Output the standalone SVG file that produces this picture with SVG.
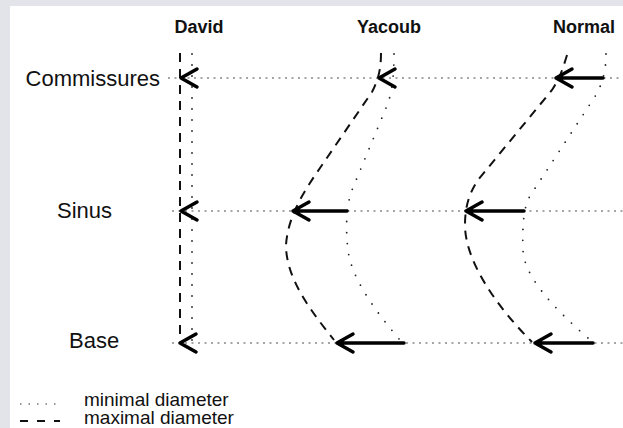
<svg xmlns="http://www.w3.org/2000/svg" width="623" height="428" viewBox="0 0 623 428">
<defs>
<style>
.t{font-family:"Liberation Sans",Arial,sans-serif;font-size:19px;fill:#111}
.c{font-size:22px}
.l{font-size:19px}
.h{font-family:"Liberation Sans",Arial,sans-serif;font-size:18px;font-weight:bold;fill:#111}
.dash{fill:none;stroke:#111;stroke-width:2;stroke-dasharray:9 7}
.dot{fill:none;stroke:#222;stroke-width:1.8;stroke-linecap:round;stroke-dasharray:0 11}
.row{fill:none;stroke:#888;stroke-width:1.3;stroke-dasharray:2 4.5}
.arr{fill:none;stroke:#000;stroke-width:3.5;stroke-linecap:round;stroke-linejoin:round}
</style>
</defs>
<rect x="0" y="0" width="623" height="428" fill="#e3e3ea"/>
<rect x="10" y="6" width="613" height="422" fill="#fff"/>

<g id="titles">
<text class="h" x="199" y="33" text-anchor="middle">David</text>
<text class="h" x="389" y="33" text-anchor="middle">Yacoub</text>
<text class="h" x="584" y="33" text-anchor="middle">Normal</text>
</g>
<g id="row-labels">
<text class="t c" x="160" y="86" text-anchor="end">Commissures</text>
<text class="t c" x="57" y="218">Sinus</text>
<text class="t c" x="69" y="348">Base</text>
</g>

<g id="connectors">
<line class="row" x1="168" y1="78" x2="623" y2="78"/>
<line class="row" x1="172" y1="211" x2="623" y2="211"/>
<line class="row" x1="172" y1="343" x2="623" y2="343"/>
</g>

<g id="david">
<line class="dash" x1="180" y1="53" x2="180" y2="338"/>
<line class="dot" x1="192" y1="54" x2="192" y2="343"/>
<path class="arr" d="M197,69 L181,78 L197,87"/>
<path class="arr" d="M197,202 L181,211 L197,220"/>
<path class="arr" d="M196,334 L180,343 L196,352"/>
</g>

<g id="yacoub">
<path class="dash" d="M381,53 C381,70 378,80 372,92 L320,168 C305,190 288,215 286,245 C286,278 310,310 334,340"/>
<path class="dot" d="M394,54 C394,75 392,95 386,108 L352,190 C347,203 345,225 348,250 C351,275 370,305 400,340"/>
<path class="arr" d="M395,69 L379,78 L395,87"/>
<path class="arr" d="M347,211 L293,211 M309,202 L293,211 L309,220"/>
<path class="arr" d="M404,343 L337,343 M353,334 L337,343 L353,352"/>
</g>

<g id="normal">
<path class="dash" d="M567,55 C563,68 560,78 552,90 L478,180 C470,192 465,205 465,225 C465,260 495,305 532,342"/>
<path class="dot" d="M606,54 C606,70 603,82 596,95 L530,196 C524,206 522,225 523,250 C524,275 550,305 588,338"/>
<path class="arr" d="M603,78 L556,78 M572,69 L556,78 L572,87"/>
<path class="arr" d="M524,211 L466,211 M482,202 L466,211 L482,220"/>
<path class="arr" d="M593,343 L535,343 M551,334 L535,343 L551,352"/>
</g>

<g id="legend">
<line x1="20" y1="404" x2="60" y2="404" stroke="#777" stroke-width="1.3" stroke-dasharray="1.5 7"/>
<text class="t l" x="84" y="406">minimal diameter</text>
<line x1="20" y1="421" x2="60" y2="421" stroke="#111" stroke-width="2" stroke-dasharray="8 9"/>
<text class="t l" x="84" y="424">maximal diameter</text>
</g>
</svg>
